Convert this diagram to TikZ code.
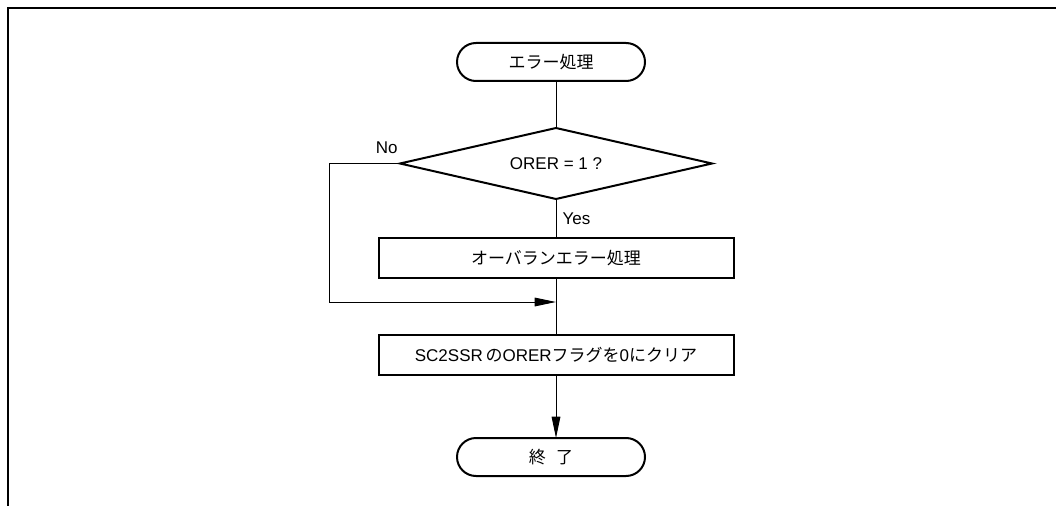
\documentclass[tikz,border=0pt]{standalone}
\usepackage{fontspec}
\setmainfont{Liberation Sans}
\newfontfamily\jp{Noto Sans CJK JP}
\usepackage{tikz}
\usetikzlibrary{shapes.geometric, arrows.meta, positioning, calc}
\newcommand{\flowsize}{\fontsize{12.75}{15}\selectfont}
\tikzset{
  term/.style={rectangle, rounded corners=14.25pt, draw=black, line width=1.5pt,
               minimum width=141pt, minimum height=28.5pt, inner sep=0pt, outer sep=0pt,
               font=\flowsize\jp},
  proc/.style={rectangle, draw=black, line width=1.5pt,
               minimum width=266.25pt, minimum height=30pt, inner sep=0pt, outer sep=0pt},
  decision/.style={diamond, draw=black, line width=1.5pt, aspect=4.4,
                   minimum width=234pt, minimum height=53.25pt, inner sep=0pt, outer sep=0pt},
  line/.style={line width=0.75pt},
  arrow/.style={line width=0.75pt, -{Triangle[length=16pt, width=6.5pt]}},
  lbl/.style={inner sep=0pt},
  frame/.style={line width=1.5pt},
}

\begin{document}
\begin{tikzpicture}[x=0.75pt, y=-0.75pt, font=\flowsize]
  \useasboundingbox (0,0) rectangle (1056,506);
  \draw[frame] (8,506) -- (8,8) -- (1056,8);

  \node[term] at (551,62) (start) {エラー処理};
  \node[decision, below=35.25pt of start, xshift=3.75pt] (dec) {ORER = 1 ?};
  \node[proc, below=29.25pt of dec]   (over)  {{\jp オーバランエラー処理}};
  \node[proc, below=42.75pt of over]  (clear) {SC2SSR\hspace{2pt}{\jp の}ORER{\jp フラグを}0{\jp にクリア}};
  \node[term, below=47.25pt of clear, xshift=-3.75pt] (fin) {終\hspace{0.6em}了};
  \coordinate[below=18pt of over.south] (merge);

  \draw[line] (dec.north |- start.south) -- (dec.north);
  \draw[line] (dec.south) -- node[lbl, anchor=west, xshift=4.5pt]{Yes} (over.north);
  \draw[arrow] (dec.west) node[lbl, anchor=south east, xshift=-1.5pt, yshift=7pt]{No}
    -- ++(-71,0) |- (merge);
  \draw[line] (over) -- (clear);
  \draw[arrow] (clear.south) -- (clear.south |- fin.north);
\end{tikzpicture}
\end{document}
